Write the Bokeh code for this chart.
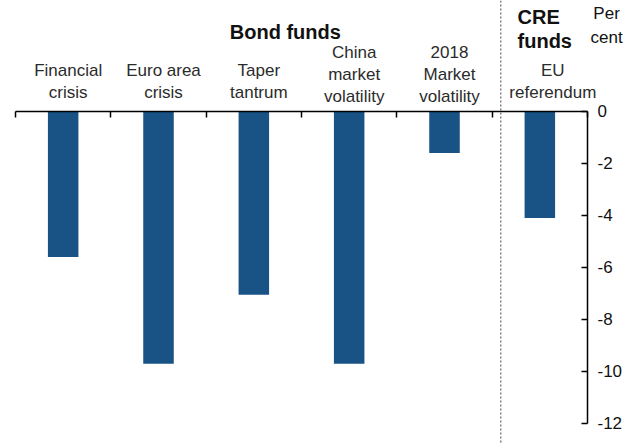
from bokeh.plotting import figure
from bokeh.models import (ColumnDataSource, Range1d, LinearAxis, FixedTicker,
                          Span, Label)
from bokeh.embed import file_html
from bokeh.resources import INLINE
from bokeh.core.properties import value

# ---- data ----
categories = ["Financial\ncrisis", "Euro area\ncrisis", "Taper\ntantrum",
              "China\nmarket\nvolatility", "2018\nMarket\nvolatility",
              "EU\nreferendum"]
outflows = [-5.6, -9.7, -7.05, -9.7, -1.6, -4.1]
y_ticks = [0, -2, -4, -6, -8, -10, -12]
group_bond = "Bond funds"
group_cre = "CRE\nfunds"
unit_label = "Per cent"

FONT = "Liberation Sans"
BAR = "#195284"

n = len(categories)
centers = [i + 0.5 for i in range(n)]
n_lines = [c.count("\n") + 1 for c in categories]
label_dy = [-5 if k == 3 else -9 for k in n_lines]
label_dx = [13 if i == n - 1 else 5 for i in range(n)]

src = ColumnDataSource(dict(x=centers, top=outflows, cat=categories,
                            dy=label_dy, dx=label_dx,
                            zero=[0] * n))

p = figure(width=624, height=444, output_backend="svg", toolbar_location=None,
           x_range=Range1d(-0.1573, 6.388), y_range=Range1d(-12.808, 4.269),
           x_axis_type=None, y_axis_type=None, min_border=0)
p.outline_line_color = None
p.background_fill_color = "white"
p.border_fill_color = "white"

p.vbar(x="x", top="top", bottom=0, width=0.32, source=src,
       fill_color=BAR, line_color=None)

# divider between bond and CRE funds
p.add_layout(Span(location=5.09, dimension="height", line_color="#808080",
                  line_width=1.5, line_dash="2 2"))

# top category axis (tick marks at category boundaries)
top_ax = LinearAxis(fixed_location=0, bounds=(0, n),
                    ticker=FixedTicker(ticks=list(range(n + 1))),
                    major_tick_in=6, major_tick_out=0,
                    minor_tick_in=0, minor_tick_out=0,
                    axis_line_color="black", axis_line_width=1.5,
                    major_tick_line_color="black", major_tick_line_width=1.5,
                    major_label_text_color=None)
p.add_layout(top_ax, "above")

# right value axis
y_ax = LinearAxis(fixed_location=n, bounds=(-12, 0),
                  ticker=FixedTicker(ticks=y_ticks),
                  major_label_overrides={t: str(t) for t in y_ticks},
                  major_tick_in=6, major_tick_out=0,
                  minor_tick_in=0, minor_tick_out=0,
                  axis_line_color="black", axis_line_width=1.5,
                  major_tick_line_color="black", major_tick_line_width=1.5,
                  major_label_standoff=10,
                  major_label_text_font=FONT,
                  major_label_text_font_size="17px",
                  major_label_text_color="#111111")
p.add_layout(y_ax, "right")

# category labels
p.text(x="x", y="zero", text="cat", source=src, x_offset="dx", y_offset="dy",
       text_align="center", text_baseline="bottom",
       text_font=value(FONT), text_font_size="17px", text_color="#2b2b2b",
       text_line_height=1.18)

p.add_layout(Label(x=2.83, y=3.04, text=group_bond, text_align="center",
                   text_baseline="alphabetic", text_font=FONT,
                   text_font_size="20px", text_font_style="bold",
                   text_color="#111111"))
p.add_layout(Label(x=5.266, y=2.27, text=group_cre, text_align="left",
                   text_baseline="bottom", text_font=FONT,
                   text_font_size="20px", text_font_style="bold",
                   text_color="#111111", text_line_height=1.1))
p.add_layout(Label(x=6.2, y=2.48, text=unit_label.replace(" ", "\n"),
                   text_align="center", text_baseline="bottom",
                   text_font=FONT, text_font_size="17px",
                   text_color="#111111", text_line_height=1.24))

open("out.html", "w").write(file_html(p, INLINE))
